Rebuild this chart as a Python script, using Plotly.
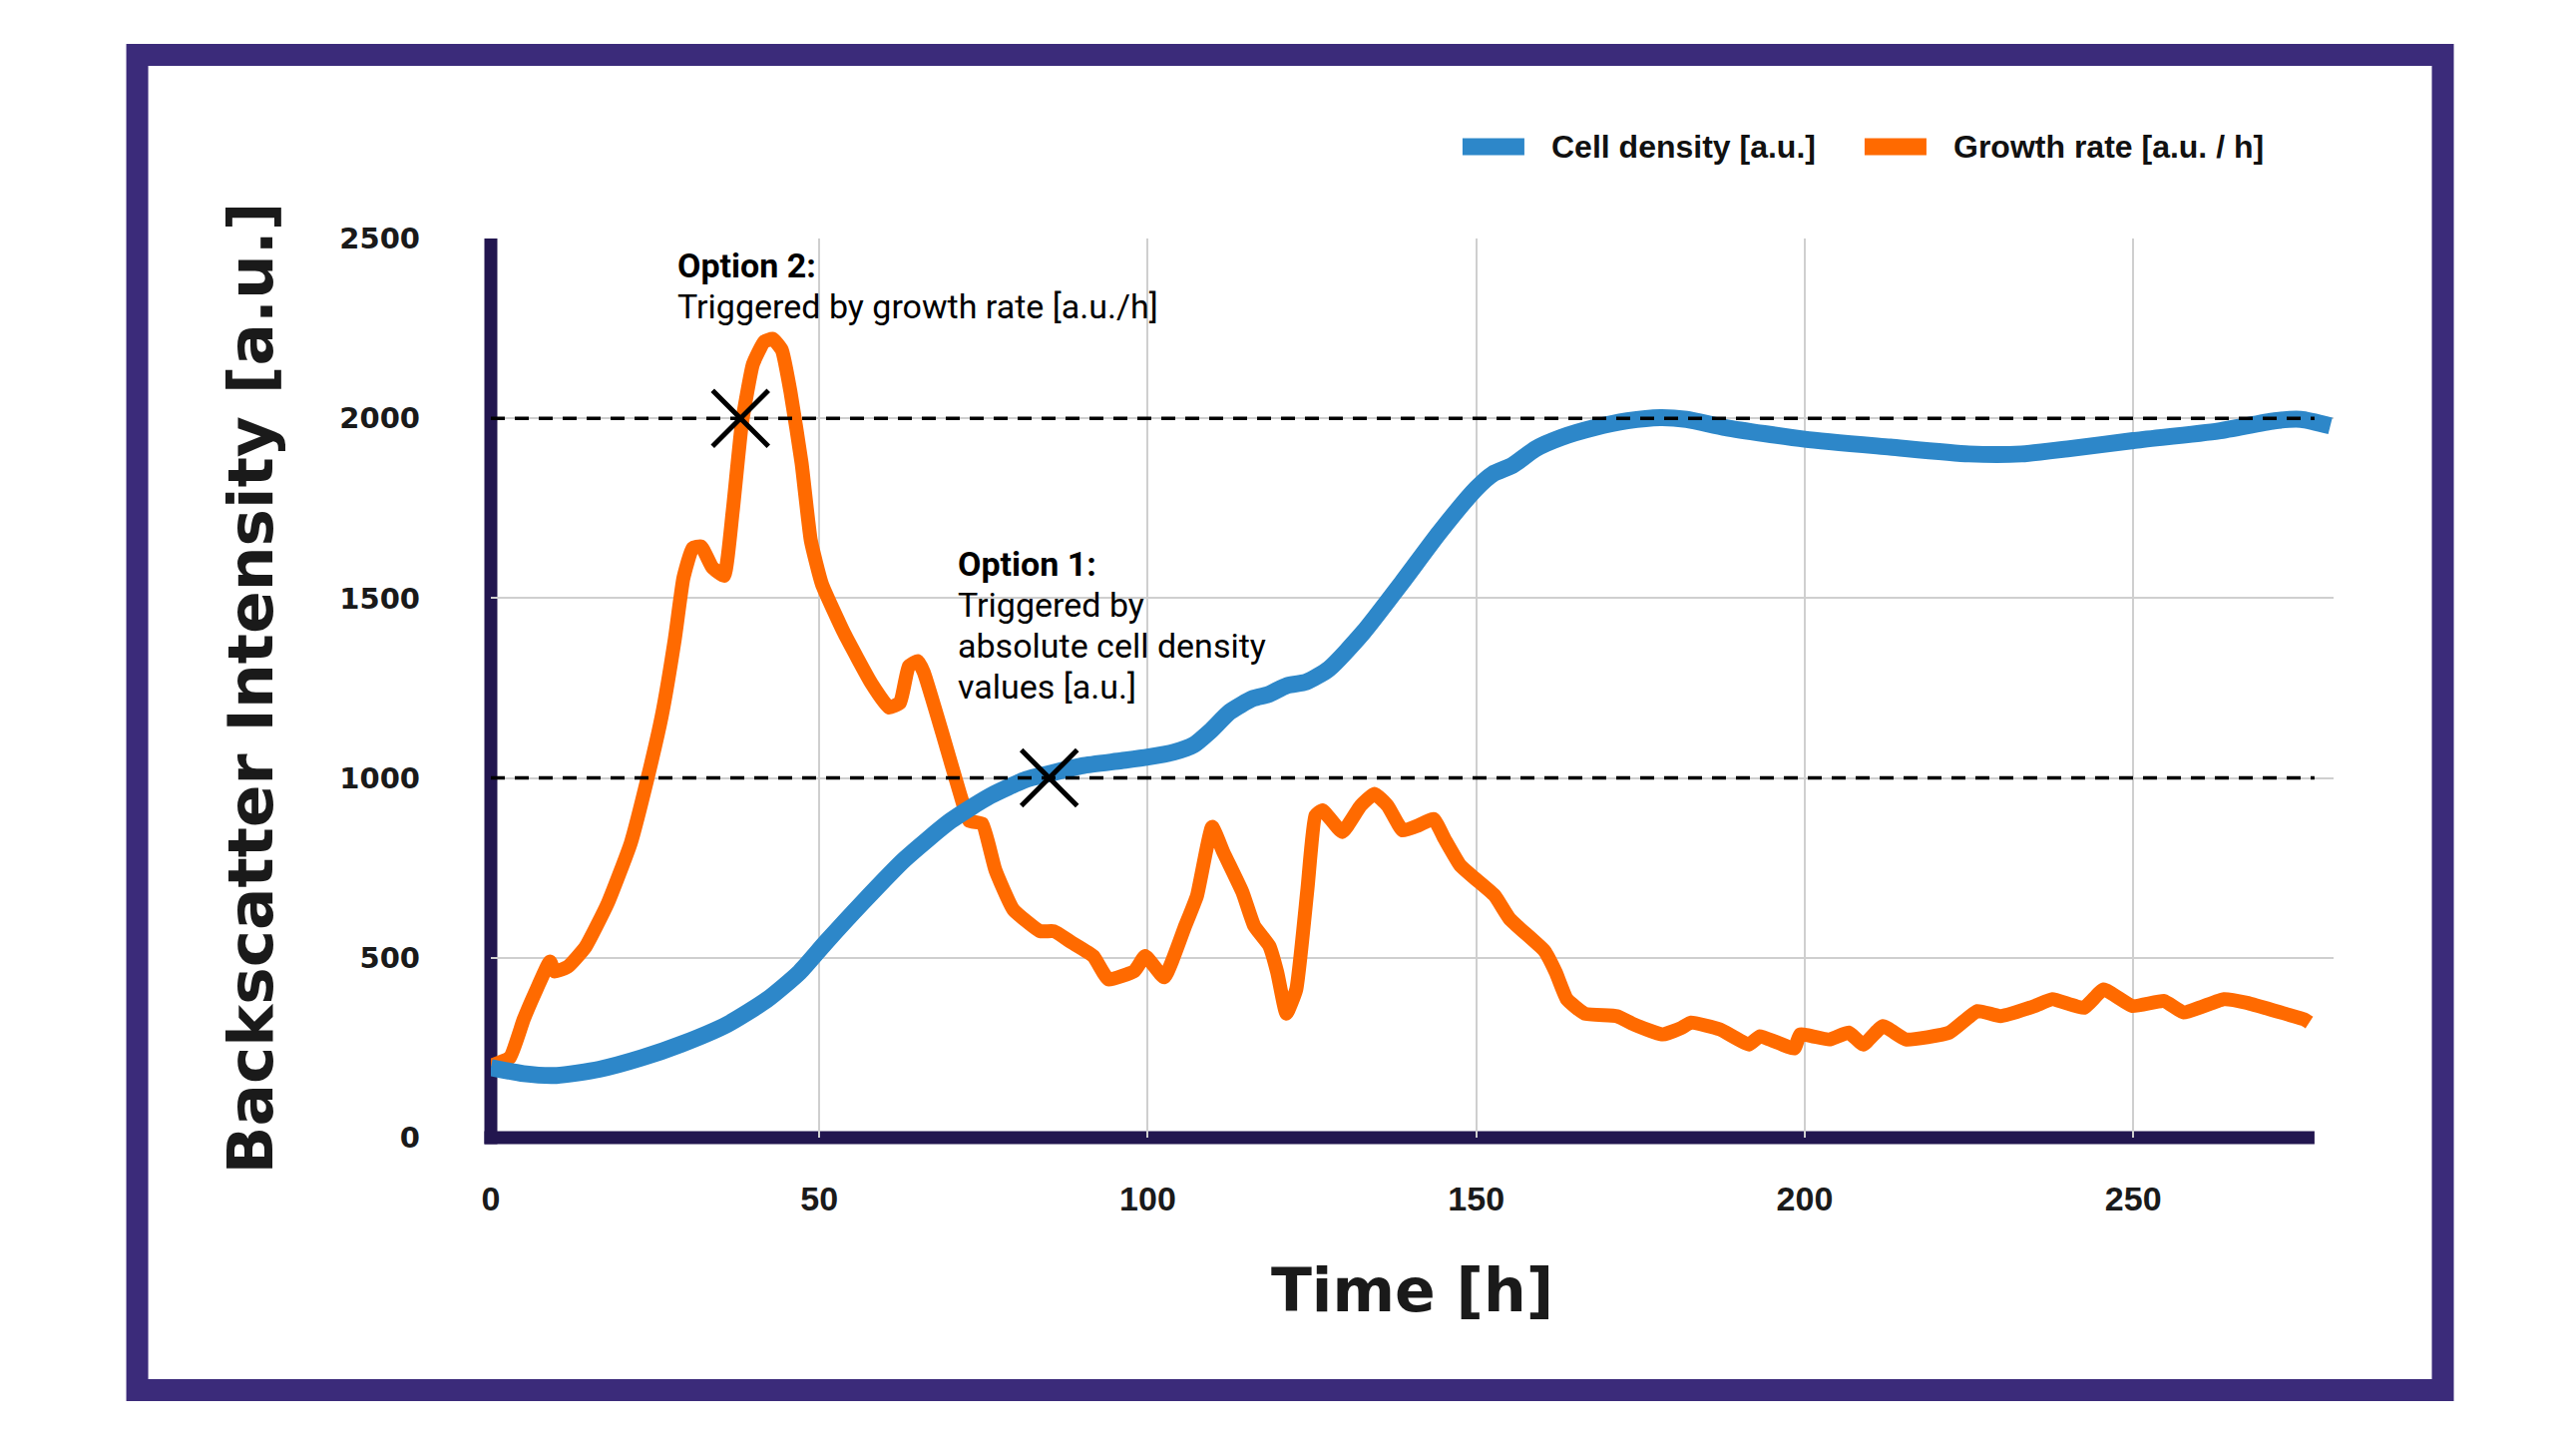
import plotly.graph_objects as go

# ---------------- data ----------------
time_density = [0, 5, 10, 16.5, 23, 29, 36, 42, 47, 51, 56.5, 63, 70, 76, 81.5, 85, 90, 96,
                100, 104, 107, 109.5, 112.5, 116, 118.3, 121.2, 124.1, 127.6, 132.8, 138.7,
                144.4, 150, 152.5, 155.5, 159, 163, 168, 173, 178, 182, 188, 200, 213, 225,
                233, 240, 250, 263, 271.5, 275.5, 280]
cell_density = [195, 178, 173, 190, 222, 260, 315, 383, 460, 543, 652, 774, 881, 950, 996,
                 1012, 1034, 1048, 1058, 1072, 1092, 1130, 1184, 1221, 1232, 1257, 1267, 1304,
                 1405, 1544, 1683, 1805, 1845, 1869, 1915, 1947, 1974, 1993, 2002, 1997, 1974,
                 1942, 1920, 1901, 1901, 1915, 1938, 1965, 1993, 1997, 1979]

time_rate = [0, 2.9, 5, 7, 9, 9.7, 11.7, 14.4, 17.8, 21.3, 23.9, 26, 28, 29.3, 30.7, 32, 33.7,
             35.5, 36.8, 38.2, 39.9, 41.6, 42.9, 44.3, 45.6, 47.3, 48.7, 50.4, 53.8, 57.9,
             60.6, 62.3, 63.6, 65, 65.9, 68.7, 71.4, 72.8, 74.8, 76.8, 79.5, 83.6, 85.7, 88.4,
             91.7, 94, 98, 99.6, 102.5, 105.7, 107.5, 109.8, 111.5, 114.4, 116.2, 118.5,
             119.7, 121.1, 122.6, 124.3, 125.5, 126.6, 129.6, 132.4, 134.5, 136.5, 138.8,
             141.2, 143.5, 145.2, 147.6, 149.9, 152.8, 155.1, 160.4, 162.1, 163.8, 166.5,
             171.4, 174, 178.4, 181.2, 182.7, 187.1, 191.5, 193.2, 198.4, 199.3, 203.7,
             206.7, 208.9, 211.9, 215.4, 222, 226.3, 229.8, 235, 237.7, 242.5, 245.5, 249.9,
             254.7, 257.7, 263.8, 267.3, 273.4, 276, 276.8]
growth_rate = [200, 223, 329, 414, 490, 462, 475, 530, 652, 819, 1003, 1171, 1386, 1555, 1639,
               1644, 1586, 1562, 1739, 1984, 2151, 2213, 2221, 2190, 2075, 1876, 1661, 1539,
               1402, 1264, 1196, 1210, 1310, 1325, 1294, 1126, 957, 881, 873, 744, 635, 574,
               574, 543, 505, 440, 464, 505, 446, 589, 673, 864, 794, 683, 589, 533, 460, 345,
               412, 691, 895, 910, 850, 923, 956, 923, 854, 868, 886, 830, 756, 719, 673, 608,
               519, 460, 385, 345, 338, 315, 287, 305, 320, 301, 259, 282, 248, 287, 273, 292,
               259, 310, 273, 292, 352, 338, 366, 385, 361, 412, 366, 380, 348, 385, 375, 343,
               329, 320]

thresholds = [2000, 1000]
trigger_time = [38, 85]
trigger_value = [2000, 1000]

x_ticks = [0, 50, 100, 150, 200, 250]
y_ticks = [0, 500, 1000, 1500, 2000, 2500]

series_names = ["Cell density [a.u.]", "Growth rate [a.u. / h]"]
x_title = "Time [h]"
y_title = "Backscatter Intensity [a.u.]"
option2_lines = ["<b>Option 2:</b>", "Triggered by growth rate [a.u./h]"]
option1_lines = ["<b>Option 1:</b>", "Triggered by", "absolute cell density", "values [a.u.]"]

X_RANGE = [0, 280.5]
Y_RANGE = [0, 2500]
X_END = 277.6

BLUE = "#2d87c9"
ORANGE = "#ff6a00"
NAVY = "#22164f"
FRAME = "#3b2b7a"
COLORS = [BLUE, ORANGE]

# plot-area geometry in pixels (used for decoration placement)
PLOT_W = 2582 - 492 - 243
PLOT_H = 1449 - 239 - 309
AXIS_W = 13
LINE_STEP = 41  # px between annotation text lines

try:
    go.layout.Shape(layer="between")
    MID_LAYER = "between"
except Exception:
    MID_LAYER = "below"

fig = go.Figure()

fig.add_trace(go.Scatter(
    x=time_rate, y=growth_rate, name=series_names[1], mode="lines",
    line=dict(color=ORANGE, width=14, shape="spline", smoothing=0.4),
    showlegend=False,
))
fig.add_trace(go.Scatter(
    x=time_density, y=cell_density, name=series_names[0], mode="lines",
    line=dict(color=BLUE, width=17, shape="spline", smoothing=0.6),
    showlegend=False,
))
fig.add_trace(go.Scatter(
    x=trigger_time, y=trigger_value, mode="markers", showlegend=False,
    marker=dict(symbol="x-thin", size=56, color="black",
                line=dict(color="black", width=5)),
    cliponaxis=False,
))

half_x = AXIS_W / 2 / PLOT_W
half_y = AXIS_W / 2 / PLOT_H
shapes = [
    dict(type="rect", xref="paper", yref="paper", x0=-0.1919, x1=1.0593,
         y0=-0.2808, y1=1.2042, line=dict(color=FRAME, width=22),
         fillcolor="rgba(0,0,0,0)", layer="below"),
    # y axis line
    dict(type="line", xref="paper", yref="paper", x0=0, x1=0, y0=-half_y, y1=1,
         line=dict(color=NAVY, width=AXIS_W), layer=MID_LAYER),
    # x axis line
    dict(type="line", xref="paper", yref="paper", x0=-half_x,
         x1=(X_END - X_RANGE[0]) / (X_RANGE[1] - X_RANGE[0]), y0=0, y1=0,
         line=dict(color=NAVY, width=AXIS_W), layer=MID_LAYER),
]
for th in thresholds:
    shapes.append(dict(type="line", xref="x", yref="y", x0=0, x1=X_END, y0=th, y1=th,
                       line=dict(color="black", width=3.5, dash="14px,10px"),
                       layer="above"))

annotations = []
text_font = dict(family="Roboto, sans-serif", size=34, color="black")
for lines, (ax, ay) in ((option2_lines, (28.1, 2425)), (option1_lines, (70.8, 1595))):
    for i, line in enumerate(lines):
        annotations.append(dict(x=ax, y=ay, xref="x", yref="y", text=line, showarrow=False,
                                xanchor="left", yanchor="middle", align="left",
                                yshift=-i * LINE_STEP, font=text_font))

# custom legend (swatch + label) placed above the plot, top right
legend_swatch_x = [0.5273, 0.7455]
legend_swatch_w = 62 / PLOT_W
legend_text_gap = 25 / PLOT_W
legend_y = 1.1021
legend_h = 17 / PLOT_H
for i, name in enumerate(series_names):
    x0 = legend_swatch_x[i]
    shapes.append(dict(type="rect", xref="paper", yref="paper", x0=x0,
                       x1=x0 + legend_swatch_w, y0=legend_y - legend_h / 2,
                       y1=legend_y + legend_h / 2, fillcolor=COLORS[i],
                       line=dict(width=0), layer="above"))
    annotations.append(dict(x=x0 + legend_swatch_w + legend_text_gap, y=legend_y,
                            xref="paper", yref="paper", text=name, showarrow=False,
                            xanchor="left", yanchor="middle",
                            font=dict(family="Liberation Sans, Arial, sans-serif", size=32,
                                      color="#111111", weight="bold")))

fig.update_layout(
    width=2582, height=1449, autosize=False,
    margin=dict(l=492, r=243, t=239, b=309, pad=0),
    paper_bgcolor="white", plot_bgcolor="white",
    shapes=shapes, annotations=annotations,
    showlegend=False,
    xaxis=dict(range=X_RANGE, tickvals=x_ticks, ticktext=[str(v) for v in x_ticks],
               showgrid=True, gridcolor="#cfcfcf", gridwidth=1.5, zeroline=False,
               showline=False, ticks="", ticklabelstandoff=38,
               tickfont=dict(family="Liberation Sans, Arial, sans-serif", size=34,
                             color="#1a1a1a", weight="bold"),
               title=dict(text=x_title, standoff=52,
                          font=dict(family="DejaVu Sans, sans-serif", size=60,
                                    color="#1a1a1a", weight="bold"))),
    yaxis=dict(range=Y_RANGE, tickvals=y_ticks, ticktext=[str(v) for v in y_ticks],
               showgrid=True, gridcolor="#cfcfcf", gridwidth=1.5, zeroline=False,
               showline=False, ticks="", ticklabelstandoff=70,
               tickfont=dict(family="DejaVu Sans, sans-serif", size=29,
                             color="#1a1a1a", weight="bold"),
               title=dict(text=y_title, standoff=46,
                          font=dict(family="DejaVu Sans, sans-serif", size=63,
                                    color="#1a1a1a", weight="bold"))),
)

fig.write_html("out.html")
